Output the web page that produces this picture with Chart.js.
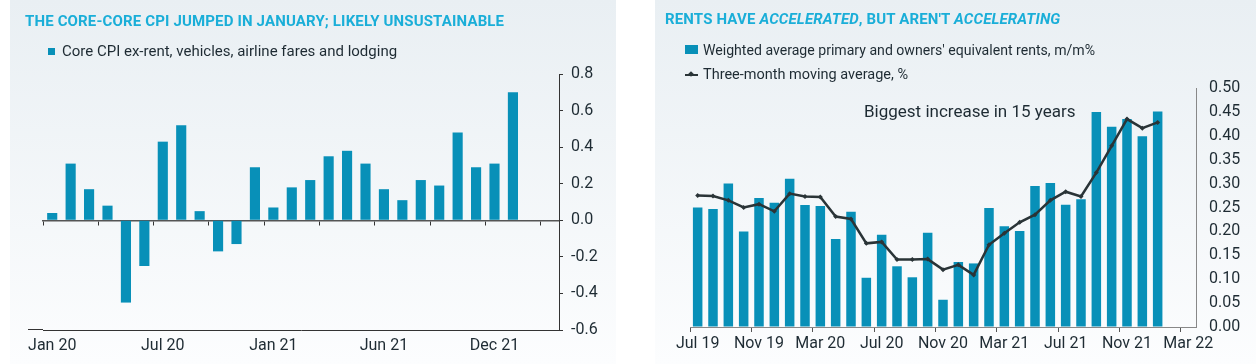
<!DOCTYPE html>
<html>
<head>
<meta charset="utf-8">
<script src="https://cdn.jsdelivr.net/npm/chart.js@4"></script>
<style>
  body { margin: 0; width: 1256px; height: 364px; background: #fff; overflow: hidden; font-family: Roboto, sans-serif; color: #1e2b33; }
  .panel { position: absolute; top: 0; height: 364px; background: linear-gradient(#e9eff3, #fcfdfe); }
  .panel canvas { position: absolute; left: 0; top: 0; }
  .title { position: absolute; font-weight: 700; font-size: 15px; letter-spacing: 0.15px; color: #1aaed8; white-space: nowrap; }
  .title i { font-style: italic; }
  .leg { position: absolute; font-size: 15px; white-space: nowrap; line-height: 18px; }
  .sq { position: absolute; background: #0890b8; }
  .note { position: absolute; font-size: 17px; white-space: nowrap; }
</style>
</head>
<body>
<div class="panel" style="left:10px;width:606px">
  <canvas id="leftChart" width="606" height="364"></canvas>
  <div class="title" style="left:15px;top:12px">THE CORE-CORE CPI JUMPED IN JANUARY; LIKELY UNSUSTAINABLE</div>
  <div class="sq" style="left:38px;top:48px;width:7px;height:7px"></div>
  <div class="leg" style="left:52px;top:42px">Core CPI ex-rent, vehicles, airline fares and lodging</div>
  <div class="sq" style="left:18px;top:329px;width:15px;height:1px;background:#333"></div>
</div>
<div class="panel" style="left:655px;width:601px">
  <canvas id="rightChart" width="601" height="364"></canvas>
  <div class="title" style="left:10px;top:10px">RENTS HAVE <i>ACCELERATED</i>, BUT AREN'T <i>ACCELERATING</i></div>
  <div class="sq" style="left:30px;top:45px;width:13px;height:9px"></div>
  <div class="leg" style="left:48px;top:41px;font-size:14.1px">Weighted average primary and owners' equivalent rents, m/m%</div>
  <div class="sq" style="left:30px;top:74px;width:13px;height:2px;background:#2a3437"></div>
  <div class="sq" style="left:34px;top:72px;width:4px;height:4px;background:#2a3437;transform:rotate(45deg)"></div>
  <div class="leg" style="left:48px;top:66px;font-size:14.5px">Three-month moving average, %</div>
  <div class="note" style="left:209px;top:101px">Biggest increase in 15 years</div>
</div>

<script>
// datos del grafico izquierdo
const leftMonths = ['Jan 20','Feb 20','Mar 20','Apr 20','May 20','Jun 20','Jul 20','Aug 20','Sep 20','Oct 20','Nov 20','Dec 20',
  'Jan 21','Feb 21','Mar 21','Apr 21','May 21','Jun 21','Jul 21','Aug 21','Sep 21','Oct 21','Nov 21','Dec 21',
  'Jan 22','Feb 22','Mar 22','Apr 22'];
const leftTickLabels = ['Jan 20', 'Jul 20', 'Jan 21', 'Jun 21', 'Dec 21'];
const coreCpi = [0.04, 0.31, 0.17, 0.08, -0.45, -0.25, 0.43, 0.52, 0.05, -0.17, -0.13, 0.29,
  0.07, 0.18, 0.22, 0.35, 0.38, 0.31, 0.17, 0.11, 0.22, 0.19, 0.48, 0.29, 0.31, 0.70];

// datos del grafico derecho
const rightMonths = ['Jul 19','Aug 19','Sep 19','Oct 19','Nov 19','Dec 19','Jan 20','Feb 20','Mar 20','Apr 20','May 20','Jun 20',
  'Jul 20','Aug 20','Sep 20','Oct 20','Nov 20','Dec 20','Jan 21','Feb 21','Mar 21','Apr 21','May 21','Jun 21',
  'Jul 21','Aug 21','Sep 21','Oct 21','Nov 21','Dec 21','Jan 22','Feb 22','Mar 22'];
const rentMm = [0.25, 0.247, 0.30, 0.20, 0.27, 0.26, 0.31, 0.255, 0.253, 0.184, 0.241, 0.103,
  0.193, 0.127, 0.104, 0.197, 0.057, 0.136, 0.133, 0.249, 0.211, 0.201, 0.295, 0.301,
  0.256, 0.267, 0.45, 0.419, 0.435, 0.399, 0.451];
const rentAvg3m = [0.275, 0.274, 0.265, 0.25, 0.257, 0.242, 0.279, 0.273, 0.272, 0.231, 0.226, 0.175,
  0.178, 0.141, 0.141, 0.142, 0.12, 0.13, 0.109, 0.172, 0.196, 0.219, 0.235, 0.265,
  0.283, 0.273, 0.323, 0.379, 0.435, 0.416, 0.428];

const BAR = '#0890b8';
const INK = '#1e2b33';
const FONT = { family: 'Roboto, sans-serif', size: 16 };

Chart.defaults.color = INK;
Chart.defaults.font = FONT;

// grafico izquierdo
new Chart(document.getElementById('leftChart'), {
  type: 'bar',
  data: {
    labels: leftMonths,
    datasets: [{
      data: coreCpi,
      backgroundColor: BAR,
      barPercentage: 0.55,
      categoryPercentage: 1
    }]
  },
  options: {
    responsive: false,
    animation: false,
    layout: { padding: { left: 33, top: 74, right: 0, bottom: 0 } },
    plugins: { legend: { display: false }, tooltip: { enabled: false } },
    scales: {
      x: {
        offset: true,
        grid: { offset: true, drawOnChartArea: false, drawTicks: false },
        border: { color: '#333', width: 1 },
        ticks: {
          autoSkip: false, maxRotation: 0, padding: 6,
          callback: (v, i) => (i % 6 === 0 && leftTickLabels[i / 6]) ? leftTickLabels[i / 6] : ''
        },
        afterFit: s => { s.height = 34; }
      },
      x2: {
        type: 'category',
        position: { y: 0 },
        offset: true,
        grid: {
          offset: true, drawOnChartArea: false, drawTicks: true, tickLength: 4,
          color: ctx => (ctx.index % 3 === 0 ? '#333' : 'rgba(0,0,0,0)')
        },
        border: { color: '#555', width: 1.5 },
        ticks: { display: false }
      },
      y: {
        position: 'right',
        min: -0.6, max: 0.8,
        grid: { drawOnChartArea: false, drawTicks: true, tickLength: 4, color: '#333' },
        border: { color: '#333', width: 1 },
        ticks: { stepSize: 0.2, padding: 8, callback: v => v.toFixed(1) },
        afterFit: s => { s.width = 57; }
      }
    }
  }
});

// grafico derecho
new Chart(document.getElementById('rightChart'), {
  data: {
    labels: rightMonths,
    datasets: [
      {
        type: 'line',
        data: rentAvg3m,
        borderColor: '#2a3437',
        borderWidth: 2.5,
        pointStyle: 'rectRot',
        pointRadius: 2.5,
        pointBackgroundColor: '#2a3437',
        pointBorderWidth: 0,
        tension: 0,
        order: 0
      },
      {
        type: 'bar',
        data: rentMm,
        backgroundColor: BAR,
        barPercentage: 0.62,
        categoryPercentage: 1,
        order: 1
      }
    ]
  },
  options: {
    responsive: false,
    animation: false,
    layout: { padding: { left: 35, top: 88, right: 0, bottom: 0 } },
    plugins: { legend: { display: false }, tooltip: { enabled: false } },
    scales: {
      x: {
        type: 'category',
        offset: true,
        grid: {
          offset: true, drawOnChartArea: false, drawTicks: true, tickLength: 5,
          color: ctx => (ctx.index % 4 === 0 ? '#555' : 'rgba(0,0,0,0)')
        },
        border: { color: '#888', width: 1 },
        ticks: {
          autoSkip: false, maxRotation: 0, padding: 2,
          callback: (v, i) => (i % 4 === 0 ? rightMonths[i] : '')
        },
        afterFit: s => { s.height = 37; }
      },
      y: {
        position: 'right',
        min: 0, max: 0.5,
        grid: { drawOnChartArea: false, drawTicks: false },
        border: { color: '#888', width: 1 },
        ticks: { stepSize: 0.05, padding: 13, callback: v => v.toFixed(2) },
        afterFit: s => { s.width = 60; }
      }
    }
  }
});
</script>
</body>
</html>
